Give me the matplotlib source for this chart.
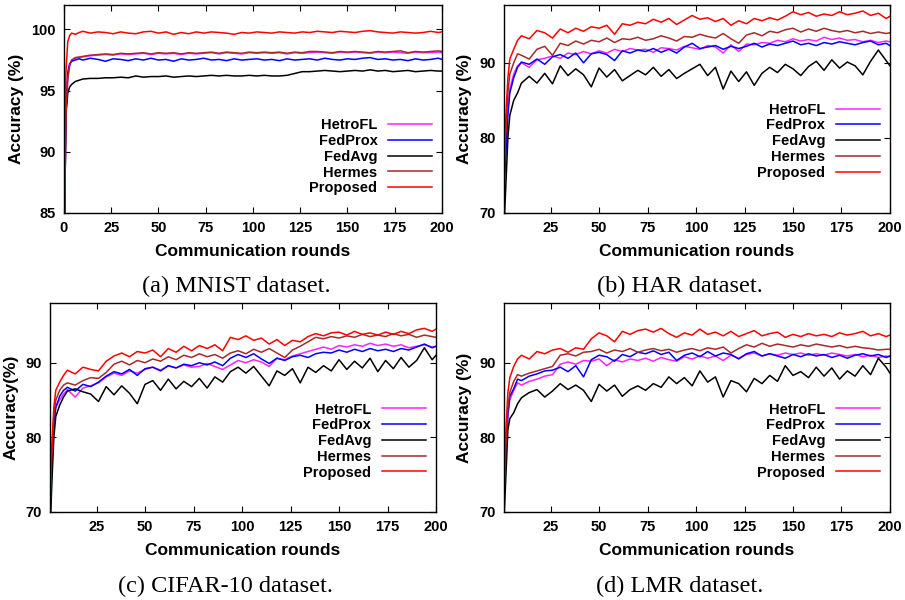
"""
Accuracy vs. communication rounds for four datasets (2x2 panel figure).
"""

import matplotlib
matplotlib.use("Agg")

import matplotlib.pyplot as plt

plt.rcParams["font.family"] = ["Liberation Sans", "DejaVu Sans"]
plt.rcParams["font.weight"] = "bold"

METHODS = ["HetroFL", "FedProx", "FedAvg", "Hermes", "Proposed"]
COLORS = ["#ff22ff", "#0000ff", "#000000", "#a52a2a", "#ff0000"]

ROUNDS_A = [0, 1, 2, 3, 4, 6, 8, 10, 14, 18, 22, 26, 30, 34, 38, 42, 46, 50, 54, 58, 62,
            66, 70, 74, 78, 82, 86, 90, 94, 98, 102, 106, 110, 114, 118, 122, 126, 130,
            134, 138, 142, 146, 150, 154, 158, 162, 166, 170, 174, 178, 182, 186, 190,
            194, 198, 200]
ROUNDS = [1, 2, 3, 4, 6, 8, 10, 14, 18, 22, 26, 30, 34, 38, 42, 46, 50, 54, 58, 62,
          66, 70, 74, 78, 82, 86, 90, 94, 98, 102, 106, 110, 114, 118, 122, 126, 130,
          134, 138, 142, 146, 150, 154, 158, 162, 166, 170, 174, 178, 182, 186, 190,
          194, 198, 200]

# ---------------- (a) MNIST ----------------
mnist_hetrofl = [80, 93, 96, 97.0, 97.45, 97.65, 97.7, 97.75, 97.85, 97.9, 97.95, 97.9,
                 98.0, 97.95, 98.0, 98.05, 97.95, 98.05, 98.0, 98.05, 97.95, 98.05, 98.0,
                 98.05, 98.1, 98.0, 98.1, 98.05, 98.0, 98.1, 98.05, 98.1, 98.05, 98.1,
                 98.0, 98.1, 98.05, 98.1, 98.15, 98.1, 98.05, 98.15, 98.1, 98.15, 98.1,
                 98.05, 98.15, 98.1, 98.15, 98.1, 98.05, 98.15, 98.1, 98.1, 98.15, 98.1]
mnist_fedprox = [80, 93, 96.5, 97.2, 97.4, 97.5, 97.6, 97.5, 97.65, 97.55, 97.4, 97.6,
                 97.55, 97.45, 97.6, 97.5, 97.65, 97.5, 97.55, 97.4, 97.6, 97.5, 97.55,
                 97.65, 97.5, 97.55, 97.45, 97.6, 97.5, 97.55, 97.6, 97.5, 97.55, 97.45,
                 97.6, 97.5, 97.55, 97.6, 97.5, 97.65, 97.55, 97.5, 97.6, 97.55, 97.65,
                 97.7, 97.55, 97.6, 97.5, 97.55, 97.45, 97.6, 97.5, 97.55, 97.65, 97.55]
mnist_fedavg = [80, 93, 94.8, 95.3, 95.5, 95.75, 95.85, 95.95, 96.0, 96.0, 96.05, 96.05,
                96.1, 96.05, 96.2, 96.1, 96.15, 96.15, 96.2, 96.1, 96.15, 96.2, 96.15,
                96.2, 96.25, 96.2, 96.25, 96.2, 96.2, 96.25, 96.2, 96.25, 96.2, 96.2,
                96.25, 96.4, 96.55, 96.55, 96.6, 96.65, 96.6, 96.55, 96.6, 96.65, 96.6,
                96.7, 96.6, 96.65, 96.55, 96.6, 96.65, 96.55, 96.6, 96.65, 96.6, 96.6]
mnist_hermes = [80, 93, 96, 97.1, 97.5, 97.7, 97.75, 97.8, 97.9, 97.95, 98.0, 97.95,
                98.05, 98.0, 98.05, 98.1, 98.0, 98.1, 98.05, 98.1, 98.0, 98.1, 98.05,
                98.1, 98.15, 98.05, 98.15, 98.1, 98.05, 98.15, 98.1, 98.15, 98.1, 98.15,
                98.05, 98.15, 98.1, 98.2, 98.2, 98.15, 98.1, 98.2, 98.15, 98.2, 98.15,
                98.1, 98.2, 98.15, 98.2, 98.25, 98.1, 98.2, 98.15, 98.2, 98.25, 98.2]
mnist_proposed = [80, 96.5, 99, 99.5, 99.7, 99.6, 99.75, 99.85, 99.7, 99.8, 99.75, 99.65,
                  99.8, 99.7, 99.65, 99.8, 99.85, 99.7, 99.8, 99.6, 99.75, 99.65, 99.8,
                  99.7, 99.8, 99.75, 99.7, 99.6, 99.75, 99.7, 99.8, 99.75, 99.7, 99.8,
                  99.75, 99.7, 99.8, 99.75, 99.85, 99.8, 99.75, 99.85, 99.8, 99.75, 99.85,
                  99.9, 99.8, 99.75, 99.7, 99.8, 99.75, 99.7, 99.75, 99.85, 99.75, 99.8]

# ---------------- (b) HAR ----------------
har_hetrofl = [75, 79, 84, 86.5, 88.5, 89.6, 90, 89.4, 90.4, 90.6, 90.9, 90.6, 91.3, 91.1,
               91.5, 91.2, 91.6, 91.3, 91.8, 91.5, 91.9, 91.7, 91.8, 91.4, 92, 91.9, 91.7,
               92.2, 92, 91.8, 92.3, 92.1, 91.3, 92.4, 91.5, 92.5, 92.4, 92.7, 92.6, 93,
               92.8, 93.2, 92.9, 93.1, 92.9, 93.4, 93.1, 93.3, 93, 93.1, 92.8, 93, 92.7,
               92.9, 92.8]
har_fedprox = [73, 78, 83, 86, 88, 89.4, 90.1, 89.8, 90.5, 89.8, 90.8, 91.1, 90.6, 91.3,
               90, 91.2, 91.4, 91.1, 90.3, 91.6, 91.3, 91.7, 91.5, 91.9, 91.4, 91.8, 91.3,
               92.1, 92.6, 91.9, 92.1, 92.3, 91.8, 92.2, 91.9, 92.2, 92.6, 92.1, 92.5, 92.3,
               92.6, 92.9, 92.4, 92.6, 92.3, 92.7, 92.5, 92.8, 92.6, 92.4, 92.7, 92.9, 92.4,
               92.6, 92.3]
har_fedavg = [68, 74, 80, 83, 85, 86, 87.3, 88.2, 87.3, 88.6, 87.2, 89.6, 88.3, 89.2, 88.4,
              86.8, 89.3, 88.1, 89.1, 87.6, 88.3, 89, 88.4, 89.4, 88.2, 89.1, 87.9, 88.6,
              89.2, 89.8, 88.3, 89.4, 86.5, 88.9, 87.5, 88.8, 87, 88.6, 89.4, 88.7, 89.8,
              89.2, 88.3, 89.5, 90.2, 89, 90.4, 89.3, 90.1, 89.6, 88.4, 90.2, 91.7, 90.3,
              89.6]
har_hermes = [75, 81, 86, 88.5, 90, 91.2, 91, 90.5, 91.8, 92.2, 91, 92.6, 92.3, 92.9, 92.5,
              93, 92.8, 93.3, 92.7, 93.2, 93.1, 93.4, 93, 93.2, 93.6, 93.3, 92.9, 93.5,
              93.4, 93.8, 93.5, 93.3, 93.9, 93.2, 92.6, 93.7, 94, 93.6, 94.2, 94, 94.4,
              94.6, 94.1, 94.5, 94.2, 94.6, 94.3, 94.1, 94.3, 94, 94.2, 93.9, 94.1, 93.9,
              94]
har_proposed = [76, 83, 88, 90.5, 91.8, 93, 93.6, 93.2, 94.3, 94, 93.3, 94.5, 94, 94.6,
                94.2, 94.8, 94.6, 95, 93.8, 95.2, 95, 95.4, 95.2, 95.8, 95.4, 95.9, 95.1,
                95.7, 96.3, 95.8, 96, 95.5, 95.9, 95, 95.6, 95.2, 95.9, 95.6, 96, 95.7,
                96.2, 96.8, 96.4, 96.7, 96.2, 96.5, 96.3, 96.8, 96.4, 96.6, 96.9, 96.3,
                96.6, 95.9, 96.2]

# ---------------- (c) CIFAR-10 ----------------
cifar_hetrofl = [70, 77, 82, 84, 85, 85.8, 86.4, 85.4, 86.6, 86.9, 87.3, 88.1, 88.6, 88.3,
                 88.9, 88.6, 89.1, 89.4, 89, 89.6, 89.3, 89.7, 89.4, 89.5, 89.9, 89.5, 89.1,
                 89.7, 90.3, 90, 90.4, 90.1, 89.5, 90.6, 90.4, 90.9, 91.2, 91.5, 91.8, 92.1,
                 91.8, 92.3, 92.1, 92.4, 92.2, 92.6, 92.3, 92.5, 92.2, 92.4, 92, 92.2, 92.4,
                 92.1, 92.2]
cifar_fedprox = [69, 76, 82, 84, 85.5, 86.3, 86.7, 86.2, 87.1, 86.8, 87.4, 88.2, 88.8,
                 88.5, 89.1, 88.3, 89.2, 89.4, 88.9, 89.6, 89.3, 89.8, 89.6, 90, 89.7, 90.1,
                 89.6, 90.6, 91.1, 90.7, 91.2, 90.5, 89.9, 90.6, 90.3, 90.8, 91, 90.7, 91.2,
                 91.4, 91.3, 91.7, 91.4, 91.8, 91.5, 91.9, 91.6, 91.8, 91.5, 91.9, 91.7,
                 92.1, 92.5, 92, 92.2]
cifar_fedavg = [67, 74, 80, 82.8, 84.3, 85.4, 86.2, 86.5, 86.1, 85.8, 84.8, 86.8, 85.7,
                86.9, 85.9, 84.5, 87.1, 87.6, 86.3, 87.8, 86.5, 87.5, 86.8, 87.9, 86.6,
                88.1, 87.4, 88.8, 89.4, 88.6, 89.5, 88.2, 86.9, 88.9, 88.3, 89.2, 87.3,
                89.4, 88.7, 89.6, 88.9, 90.4, 89.1, 90.2, 89.3, 90.6, 88.8, 90.3, 89.2,
                90.7, 89.4, 90.3, 92, 90.4, 91]
cifar_hermes = [70, 78, 83, 85, 86.3, 87, 87.3, 87, 87.6, 88, 87.9, 88.7, 89.8, 90.2, 89.7,
                90.3, 90, 90.5, 90.2, 90.8, 90.4, 91, 90.7, 91.2, 90.8, 91.1, 90.6, 91.3,
                91.6, 91.2, 91.8, 91.4, 91.9, 91.3, 90.7, 91.7, 92.2, 92.8, 93.4, 93.2,
                93.5, 93.3, 93.6, 93.4, 93.8, 93.5, 93.7, 93.5, 93.9, 93.6, 93.8, 93.4,
                93.7, 93.5, 93.4]
cifar_proposed = [72, 79, 84, 86.3, 87.4, 88.3, 89, 88.5, 89.4, 89.1, 88.9, 90.2, 90.9,
                  91.3, 90.8, 91.5, 91.3, 91.7, 90.8, 91.9, 91.4, 92.2, 91.6, 92.3, 91.9,
                  92.4, 91.6, 93.4, 93.1, 93.6, 93, 93.3, 92.5, 93.1, 92.3, 93, 92.8, 93.5,
                  93.9, 93.6, 94, 94.1, 93.7, 94.2, 93.8, 94, 93.7, 94.1, 93.8, 94.2, 93.9,
                  94.4, 94.6, 94.2, 94.5]

# ---------------- (d) LMR ----------------
lmr_hetrofl = [71, 78, 83, 85, 86.3, 87.3, 87, 87.5, 87.8, 88.2, 88.4, 89.8, 90.1, 89.8,
               90.3, 90.2, 90.5, 89.6, 90.4, 90.1, 90.5, 90.3, 90.6, 90.2, 90.7, 90.4, 90.2,
               90.8, 90.5, 90.9, 90.6, 90.9, 90.3, 91, 90.6, 91.1, 91.3, 90.9, 91.2, 91,
               91.3, 91.1, 91.3, 91, 91.2, 91, 91.3, 91.1, 90.9, 91.1, 90.8, 91, 90.7, 90.9,
               90.8]
lmr_fedprox = [71.5, 78, 83, 85.5, 86.5, 87.8, 87.6, 88.2, 88.5, 88.9, 89, 89.4, 88.8,
               89.6, 88.1, 90.4, 91, 90.8, 90.2, 91.1, 90.8, 91.4, 91.2, 91.6, 91.1, 91.4,
               90.3, 91, 91.3, 90.8, 91.5, 90.9, 91.3, 91.1, 90.5, 91.2, 91.5, 90.9, 91.2,
               90.9, 90.6, 91.1, 90.8, 91.2, 90.9, 91.1, 90.7, 91, 90.6, 91, 91.2, 90.9,
               91.1, 90.7, 90.9]
lmr_fedavg = [69, 75, 81, 82.5, 83.3, 84.5, 85.3, 86, 86.4, 85.4, 86.2, 87.2, 86.4, 87,
              86.3, 84.8, 87.1, 86.2, 87, 85.5, 86.4, 86.9, 86.3, 87.2, 86.7, 88.1, 87.2,
              88, 86.9, 88.9, 87.4, 88.1, 85.4, 87.6, 87.2, 86.1, 87.9, 87.2, 88.3, 87.5,
              89.6, 88.3, 88.8, 88, 89.4, 88.2, 89.3, 87.8, 88.9, 88.2, 89.6, 88.4, 90.6,
              89.4, 88.6]
lmr_hermes = [72, 79, 84, 86, 87.5, 88.4, 88.2, 88.6, 88.9, 89.2, 89.5, 91, 91.2, 90.9,
              91.4, 91.5, 91.8, 91.3, 91.7, 91.5, 91.9, 91.4, 91.7, 91.9, 91.6, 91.8, 91.4,
              91.7, 91.9, 91.6, 92, 91.8, 92.1, 91.3, 91.9, 92.4, 92.1, 92.6, 92.2, 92.5,
              92.3, 92.1, 92.4, 92.2, 92.5, 92.3, 92.1, 92.3, 92, 92.2, 92, 91.9, 91.7,
              91.8, 91.8]
lmr_proposed = [74, 81, 86, 88, 89.5, 90.5, 91, 90.5, 91.5, 91.2, 91.7, 91.9, 91.4, 92,
                91.8, 93.2, 94, 93.6, 92.8, 94.2, 93.8, 94.3, 94.5, 94.1, 94.6, 93.9, 93.4,
                94, 93.7, 94.5, 93.8, 94.1, 93.6, 94.2, 93.5, 93.9, 94.3, 93.6, 93.9, 94.1,
                93.4, 93.8, 93.5, 93.9, 93.6, 93.8, 93.5, 94, 93.7, 93.9, 94.2, 93.6, 93.9,
                93.5, 93.7]

PANELS = [
    # rounds, series, ylim, yticks, xlim, xticks, ylabel, caption, axes rect, legend anchor y
    (ROUNDS_A, [mnist_hetrofl, mnist_fedprox, mnist_fedavg, mnist_hermes, mnist_proposed],
     (85, 102), [85, 90, 95, 100], (0, 200), [0, 25, 50, 75, 100, 125, 150, 175, 200],
     "Accuracy (%)", "(a) MNIST dataset.", [0.0707, 0.645, 0.4177, 0.3467], 0.085),
    (ROUNDS, [har_hetrofl, har_fedprox, har_fedavg, har_hermes, har_proposed],
     (70, 97.7), [70, 80, 90], (1, 200), [25, 50, 75, 100, 125, 150, 175, 200],
     "Accuracy (%)", "(b) HAR dataset.", [0.5569, 0.645, 0.4265, 0.3467], 0.16),
    (ROUNDS, [cifar_hetrofl, cifar_fedprox, cifar_fedavg, cifar_hermes, cifar_proposed],
     (70, 98), [70, 80, 90], (1, 200), [25, 50, 75, 100, 125, 150, 175, 200],
     "Accuracy(%)", "(c) CIFAR-10 dataset.", [0.0552, 0.1467, 0.4266, 0.3483], 0.155),
    (ROUNDS, [lmr_hetrofl, lmr_fedprox, lmr_fedavg, lmr_hermes, lmr_proposed],
     (70, 98), [70, 80, 90], (1, 200), [25, 50, 75, 100, 125, 150, 175, 200],
     "Accuracy (%)", "(d) LMR dataset.", [0.5569, 0.1467, 0.4265, 0.3483], 0.155),
]

fig = plt.figure(figsize=(9.05, 6.0), dpi=100)

for rounds, series, ylim, yticks, xlim, xticks, ylabel, caption, rect, leg_y in PANELS:
    ax = fig.add_axes(rect)
    for name, color, vals in zip(METHODS, COLORS, series):
        ax.plot(rounds, vals, color=color, lw=1.1, label=name)
    ax.set_xlim(*xlim)
    ax.set_ylim(*ylim)
    ax.set_xticks(xticks)
    ax.set_yticks(yticks)
    ax.tick_params(direction="in", top=True, right=True, length=4, width=0.8,
                   labelsize=10.5, pad=6)
    for lbl in ax.get_xticklabels() + ax.get_yticklabels():
        lbl.set_fontweight("bold")
    for sp in ax.spines.values():
        sp.set_linewidth(1.0)
    ax.set_xlabel("Communication rounds", fontsize=12.5, fontweight="bold", labelpad=6)
    ax.set_ylabel(ylabel, fontsize=12.5, fontweight="bold", labelpad=5)
    ax.legend(loc="lower right", bbox_to_anchor=(0.974, leg_y), frameon=False,
              markerfirst=False, handlelength=3.0, handletextpad=0.75,
              labelspacing=0.12, borderpad=0, borderaxespad=0,
              prop={"size": 10.5, "weight": "bold"})
    ax.text(0.455, -0.355, caption, transform=ax.transAxes, ha="center", va="center",
            fontsize=17.5, fontweight="normal", family="Liberation Serif")

fig.savefig("out.png", dpi=100)
plt.close(fig)
